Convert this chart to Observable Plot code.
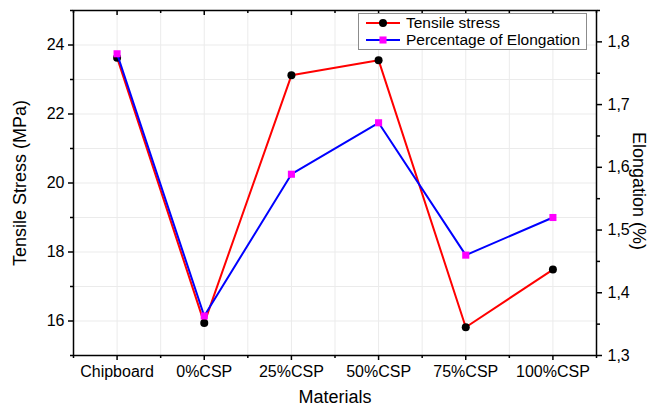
<!DOCTYPE html>
<html><head><meta charset="utf-8">
<script src="https://cdn.jsdelivr.net/npm/d3@7"></script>
<script src="https://cdn.jsdelivr.net/npm/@observablehq/plot@0.6"></script>
<style>
body{margin:0;background:#fff;font-family:"Liberation Sans",Arial,sans-serif;}
#wrap{position:relative;width:655px;height:408px;}
#legend{position:absolute;left:358px;top:13px;}
</style></head><body><div id="wrap"><div id="chart"></div><div id="legend"></div></div>
<script>
const categories = ["Chipboard","0%CSP","25%CSP","50%CSP","75%CSP","100%CSP"];
const seriesNames = ["Tensile stress","Percentage of Elongation"];
const tensile = [23.63, 15.94, 23.12, 23.56, 15.82, 17.49];
const elongation = [1.781, 1.363, 1.589, 1.671, 1.460, 1.520];
const leftTicks = [16,18,20,22,24];
const leftMinor = [15,17,19,21,23,25];
const rightTicks = [1.3,1.4,1.5,1.6,1.7,1.8];
const rightMinor = [1.35,1.45,1.55,1.65,1.75,1.85];
const leftDomain = [15,25];
const rightDomain = [1.3,1.85];
const axisTitles = {left:"Tensile Stress (MPa)", right:"Elongation (%)", bottom:"Materials"};

const toLeft = d3.scaleLinear(rightDomain, leftDomain);
const idx = d3.range(categories.length);
const rows = idx.map(i => ({i, t: tensile[i], e: toLeft(elongation[i])}));
const halfSteps = d3.range(-0.5, categories.length, 0.5);
const gridYVals = d3.range(leftDomain[0], leftDomain[1] + 0.01, 1);
const minorX = d3.range(-0.5, categories.length, 1);
const fmt = d => d.toFixed(1).replace(".", ",");

const chart = Plot.plot({
  width: 655, height: 408,
  marginLeft: 73, marginRight: 59, marginTop: 10, marginBottom: 53,
  style: {fontFamily: '"Liberation Sans", Arial, sans-serif', fontSize: "16px", background: "#fff", color: "#000"},
  x: {type: "linear", domain: [-0.5, categories.length - 0.5], axis: null},
  y: {domain: leftDomain, axis: null},
  marks: [
    Plot.gridY(gridYVals, {stroke: "#ebebeb", strokeOpacity: 1}),
    Plot.gridX(halfSteps, {stroke: "#ebebeb", strokeOpacity: 1}),
    Plot.line(rows, {x: "i", y: "t", stroke: "#ff0000", strokeWidth: 2}),
    Plot.dot(rows, {x: "i", y: "t", fill: "#000", r: 4}),
    Plot.line(rows, {x: "i", y: "e", stroke: "#0000ff", strokeWidth: 2}),
    Plot.dot(rows, {x: "i", y: "e", symbol: "square", fill: "#ff00ff", r: 4}),
    Plot.axisY(leftTicks, {anchor: "left", tickSize: 5, tickPadding: 4, strokeWidth: 1.5, label: null, fontSize: 16}),
    Plot.axisY(leftMinor, {anchor: "left", tickSize: 3, strokeWidth: 1.5, tickFormat: () => "", label: null}),
    Plot.axisY(rightTicks, {anchor: "right", y: d => toLeft(d), tickFormat: fmt, tickSize: 5, tickPadding: 6, strokeWidth: 1.5, label: null, fontSize: 16}),
    Plot.axisY(rightMinor, {anchor: "right", y: d => toLeft(d), tickFormat: () => "", tickSize: 3, strokeWidth: 1.5, label: null}),
    Plot.axisX(idx, {anchor: "bottom", tickFormat: i => categories[i], tickSize: 5, tickPadding: 5, strokeWidth: 1.5, label: null, fontSize: 16}),
    Plot.axisX(minorX, {anchor: "bottom", tickFormat: () => "", tickSize: 3, strokeWidth: 1.5, label: null}),
    Plot.tickX(idx, {x: d => d, insetBottom: 340, stroke: "#000", strokeWidth: 1.5}),
    Plot.tickX(minorX, {x: d => d, insetBottom: 342, stroke: "#000", strokeWidth: 1.5}),
    Plot.frame({stroke: "#000", strokeWidth: 1.5}),
    Plot.text([axisTitles.left], {frameAnchor: "left", dx: -53, rotate: -90, textAnchor: "middle", lineAnchor: "middle", fontSize: 18}),
    Plot.text([axisTitles.right], {frameAnchor: "right", dx: 42, dy: 8, rotate: 90, textAnchor: "middle", lineAnchor: "middle", fontSize: 18}),
    Plot.text([axisTitles.bottom], {frameAnchor: "bottom", dy: 42, textAnchor: "middle", lineAnchor: "middle", fontSize: 18})
  ]
});
document.getElementById("chart").appendChild(chart);

// legend
const items = [
  {name: seriesNames[0], stroke: "#ff0000", symbol: d3.symbolCircle, fill: "#000"},
  {name: seriesNames[1], stroke: "#0000ff", symbol: d3.symbolSquare, fill: "#ff00ff"}
];
const lw = 229, lh = 37;
const svg = d3.select("#legend").append("svg").attr("width", lw).attr("height", lh)
  .style("font-family", '"Liberation Sans", Arial, sans-serif');
svg.append("rect").attr("x", 0.5).attr("y", 0.5).attr("width", lw - 1).attr("height", lh - 1)
  .attr("fill", "#fff").attr("stroke", "#8c8c8c");
items.forEach((it, k) => {
  const cy = 10 + k * 17;
  const g = svg.append("g");
  g.append("line").attr("x1", 8).attr("x2", 42).attr("y1", cy).attr("y2", cy).attr("stroke", it.stroke).attr("stroke-width", 2);
  g.append("path").attr("d", d3.symbol(it.symbol, 50)()).attr("transform", `translate(25,${cy})`).attr("fill", it.fill);
  g.append("text").attr("x", 48).attr("y", cy).attr("dy", "0.35em").attr("font-size", 15.5).text(it.name);
});
</script></body></html>
